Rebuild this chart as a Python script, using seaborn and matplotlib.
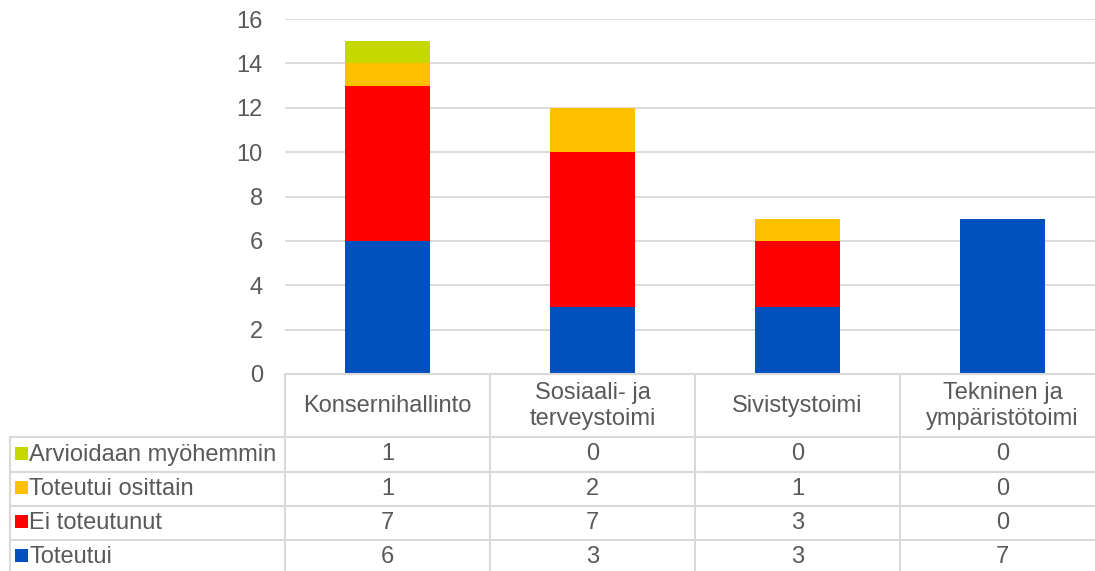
import numpy as np
import seaborn as sns
import matplotlib.pyplot as plt
from matplotlib.lines import Line2D
from matplotlib.patches import Rectangle
from matplotlib.transforms import blended_transform_factory

# Data
categories = ["Konsernihallinto", "Sosiaali- ja\nterveystoimi", "Sivistystoimi", "Tekninen ja\nympäristötoimi"]
toteutui = [6, 3, 3, 7]
ei_toteutunut = [7, 7, 3, 0]
osittain = [1, 2, 1, 0]
myohemmin = [1, 0, 0, 0]
series_names = ["Toteutui", "Ei toteutunut", "Toteutui osittain", "Arvioidaan myöhemmin"]
series_values = [toteutui, ei_toteutunut, osittain, myohemmin]
colors = ["#0050BE", "#FF0000", "#FFC000", "#C5D900"]
yticks = [0, 2, 4, 6, 8, 10, 12, 14, 16]

sns.set_style("white")
plt.rcParams["font.family"] = ["Liberation Sans", "DejaVu Sans"]
text_color = "#595959"
line_color = "#D9D9D9"
fs = 17

W, H = 1095, 571
fig = plt.figure(figsize=(W / 100, H / 100), dpi=100)


def fx(px):
    return px / W


def fy(py):
    return 1 - py / H


ax = fig.add_axes([fx(285), fy(374), fx(1105) - fx(285), fy(19) - fy(374)])

# Stacked bars: draw cumulative totals from the top layer down
stack = np.cumsum(series_values, axis=0)
for i in reversed(range(len(series_values))):
    sns.barplot(x=categories, y=stack[i], order=categories, color=colors[i],
                saturation=1, width=0.41, linewidth=0, ax=ax)

ax.set_ylim(0, 16)
ax.set_xlim(-0.5, len(categories) - 0.5)
ax.set_yticks(yticks)
ax.yaxis.grid(True, color=line_color, lw=1.3)
ax.set_axisbelow(True)
ax.tick_params(axis="y", length=0, pad=16, labelsize=fs, labelcolor=text_color)
ax.tick_params(axis="x", length=0, labelbottom=False)
ax.set_xlabel("")
ax.set_ylabel("")
for s in ax.spines.values():
    s.set_visible(False)

# Data table below the chart
blend = blended_transform_factory(ax.transData, fig.transFigure)
row_edges = [437, 472, 506, 540, 574]

for i, cat in enumerate(categories):
    fig.text(0, 0, "")
    ax.text(i, fy(406), cat, transform=blend, ha="center", va="center",
            fontsize=fs, color=text_color, linespacing=1.25, clip_on=False)

rows = list(reversed(range(len(series_names))))
for r, si in enumerate(rows):
    cy = (row_edges[r] + row_edges[r + 1]) / 2
    fig.text(fx(29), fy(cy), series_names[si], ha="left", va="center",
             fontsize=fs, color=text_color)
    fig.add_artist(Rectangle((fx(15), fy(cy + 5)), fx(13), 13 / H,
                             transform=fig.transFigure, color=colors[si], lw=0))
    for i, v in enumerate(series_values[si]):
        ax.text(i, fy(cy), str(v), transform=blend, ha="center", va="center",
                fontsize=fs, color=text_color, clip_on=False)

# Table lines
for i in range(len(categories) + 1):
    ax.add_line(Line2D([i - 0.5, i - 0.5], [fy(374), fy(H)], transform=blend,
                       color=line_color, lw=1.5, clip_on=False))
fig.add_artist(Line2D([fx(285), 1], [fy(374), fy(374)], transform=fig.transFigure,
                      color=line_color, lw=1.5))
for y in row_edges[:-1]:
    fig.add_artist(Line2D([fx(10), 1], [fy(y), fy(y)], transform=fig.transFigure,
                          color=line_color, lw=1.5))
fig.add_artist(Line2D([fx(10), fx(10)], [fy(437), 0], transform=fig.transFigure,
                      color=line_color, lw=1.5))

fig.savefig("out.png", dpi=100)
